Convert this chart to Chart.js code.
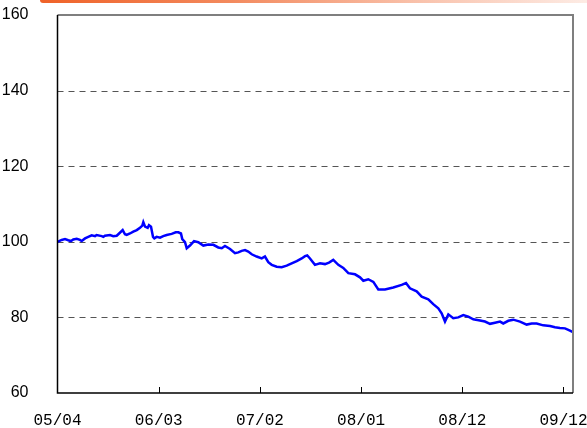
<!DOCTYPE html>
<html>
<head>
<meta charset="utf-8">
<script src="https://cdn.jsdelivr.net/npm/chart.js@4/dist/chart.umd.min.js"></script>
<style>
body{margin:0;background:#fff;}
#wrap{position:relative;width:587px;height:428px;}
#topbar{position:absolute;left:40px;top:0;width:547px;height:3px;border-bottom-left-radius:4px;
  background:linear-gradient(to right,#ef6228,#f38a5e 35%,#f9c3ad 70%,#fdebe4 100%);}
</style>
</head>
<body>
<div id="wrap">
  <canvas id="myChart" width="587" height="428"></canvas>
  <div id="topbar"></div>
</div>
<script>
// 가로 위치 (눈금 한 칸 = 10)
var v_xpos = [0,0.41,0.74,1.07,1.33,1.56,1.90,2.22,2.39,2.72,
  3.04,3.38,3.71,3.87,4.37,4.53,4.69,5.19,5.51,5.85,
  6.01,6.44,6.67,6.84,7.16,7.49,7.83,8.15,8.38,8.48,
  8.65,8.91,9.04,9.24,9.44,9.57,9.80,10.13,10.45,10.79,
  11.28,11.68,11.94,12.20,12.33,12.60,12.77,13.09,13.49,13.91,
  14.41,14.90,15.40,15.89,16.23,16.55,17.05,17.54,17.87,18.20,
  18.53,18.85,19.19,19.68,20.18,20.50,20.83,21.17,21.66,22.15,
  22.65,23.14,23.64,24.13,24.46,24.68,24.95,25.44,25.94,26.43,
  26.83,27.25,27.75,28.24,28.74,29.40,29.89,30.22,30.71,31.21,
  31.70,32.36,33.18,34.01,34.44,34.83,35.49,35.99,36.64,37.13,
  37.63,37.96,38.29,38.62,39.11,39.60,40.10,40.59,41.09,41.75,
  42.24,42.74,43.23,43.73,44.05,44.55,45.04,45.70,46.36,46.86,
  47.35,48.00,48.67,49.16,49.65,50.15,50.64,50.94];
// 지수 값
var v_values = [100.0,100.5,100.7,100.4,100.2,100.6,100.8,100.5,100.2,100.9,
  101.3,101.7,101.5,101.8,101.5,101.3,101.6,101.8,101.5,101.6,
  102.0,103.1,102.0,101.8,102.2,102.7,103.1,103.7,104.3,105.2,
  104.0,103.7,104.4,104.0,101.3,100.9,101.3,101.1,101.5,101.8,
  102.1,102.5,102.5,102.2,100.7,99.9,98.3,99.0,100.2,99.9,
  99.0,99.3,99.2,98.5,98.3,98.9,98.1,97.0,97.2,97.6,
  97.8,97.4,96.7,96.1,95.6,96.1,94.6,93.9,93.4,93.3,
  93.7,94.3,94.9,95.6,96.2,96.4,95.6,93.9,94.3,94.1,
  94.5,95.2,93.9,93.1,91.7,91.4,90.6,89.7,90.1,89.4,
  87.4,87.4,87.9,88.6,89.1,87.7,86.9,85.5,84.8,83.5,
  82.4,81.1,78.9,80.8,79.8,80.0,80.6,80.2,79.5,79.2,
  78.9,78.3,78.6,78.9,78.4,79.1,79.4,78.9,78.1,78.4,
  78.4,77.9,77.7,77.4,77.2,77.1,76.5,76.1];
var v_tickpos = [0,10,20,30,40,50];
var v_ticklabels = ["05/04","06/03","07/02","08/01","08/12","09/12"];
var v_xmax = 50.94;
var v_ymin = 60, v_ymax = 160, v_ystep = 20;

var v_points = [];
for (var a=0; a<v_xpos.length; a++){
  v_points.push({x:v_xpos[a], y:v_values[a]});
}

// 점선 격자 + 테두리 + 안쪽 눈금
var v_frame = {
  id:"frame",
  beforeDatasetsDraw:function(chart){
    var ctx = chart.ctx, ar = chart.chartArea, sy = chart.scales.y;
    ctx.save();
    ctx.strokeStyle = "#555";
    ctx.lineWidth = 1;
    ctx.setLineDash([6,5]);
    for (var v=v_ymin+v_ystep; v<v_ymax; v+=v_ystep){
      var py = Math.round(sy.getPixelForValue(v)) + 0.5;
      ctx.beginPath(); ctx.moveTo(ar.left, py); ctx.lineTo(ar.right, py); ctx.stroke();
    }
    ctx.restore();
  },
  afterDraw:function(chart){
    var ctx = chart.ctx, ar = chart.chartArea, sx = chart.scales.x;
    ctx.save();
    ctx.strokeStyle = "#7f7f7f";
    ctx.lineWidth = 2;
    ctx.beginPath();
    ctx.moveTo(ar.left, ar.top); ctx.lineTo(ar.right, ar.top); ctx.lineTo(ar.right, ar.bottom);
    ctx.stroke();
    ctx.strokeStyle = "#000";
    ctx.lineWidth = 1.5;
    ctx.beginPath();
    ctx.moveTo(ar.left, ar.top); ctx.lineTo(ar.left, ar.bottom); ctx.lineTo(ar.right, ar.bottom);
    ctx.stroke();
    ctx.lineWidth = 1;
    for (var i=1; i<v_tickpos.length; i++){
      var px = Math.round(sx.getPixelForValue(v_tickpos[i])) + 0.5;
      ctx.beginPath(); ctx.moveTo(px, ar.bottom); ctx.lineTo(px, ar.bottom-6); ctx.stroke();
    }
    ctx.restore();
  }
};

var ctx = document.getElementById("myChart").getContext("2d");
var myChart = new Chart(ctx, {
  type:"line",
  data:{
    datasets:[{
      data:v_points,
      borderColor:"#0000ff",
      borderWidth:2.5,
      pointRadius:0,
      tension:0,
      fill:false
    }]
  },
  options:{
    responsive:false,
    animation:false,
    devicePixelRatio:1,
    layout:{padding:{left:0, top:15, right:14, bottom:0}},
    plugins:{legend:{display:false}, tooltip:{enabled:false}},
    scales:{
      x:{
        type:"linear", min:0, max:v_xmax,
        grid:{display:false}, border:{display:false},
        afterBuildTicks:function(s){ s.ticks = v_tickpos.map(function(v){ return {value:v}; }); },
        afterFit:function(s){ s.height = 35; s.paddingLeft = 0; s.paddingRight = 0; },
        ticks:{
          autoSkip:false, maxRotation:0, padding:10, color:"#000",
          font:{family:"'Liberation Mono', monospace", size:16},
          callback:function(v){ return v_ticklabels[v_tickpos.indexOf(v)]; }
        }
      },
      y:{
        min:v_ymin, max:v_ymax,
        grid:{display:false}, border:{display:false},
        afterFit:function(s){ s.width = 57.5; s.paddingTop = 0; s.paddingBottom = 0; },
        ticks:{
          stepSize:v_ystep, padding:21, color:"#000",
          font:{family:"'Liberation Sans', Arial, sans-serif", size:16}
        }
      }
    }
  },
  plugins:[v_frame]
});
</script>
</body>
</html>
